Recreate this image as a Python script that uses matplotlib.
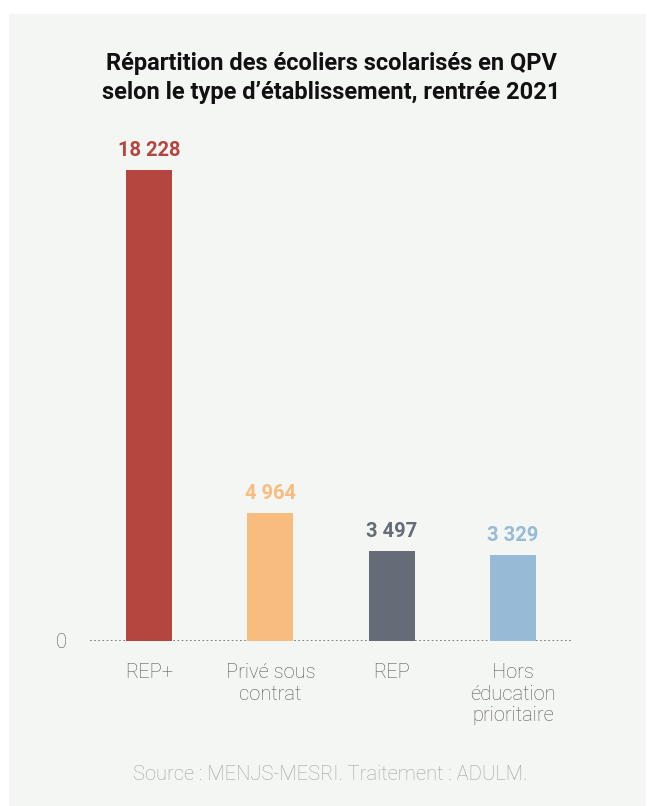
import matplotlib
matplotlib.use("Agg")
import matplotlib.pyplot as plt
from matplotlib.patches import Rectangle

categories = ["REP+", "Privé sous\ncontrat", "REP", "Hors\néducation\nprioritaire"]
values = [18228, 4964, 3497, 3329]
value_labels = ["18 228", "4 964", "3 497", "3 329"]
colors = ["#B5453F", "#F8BC7F", "#646C78", "#97BAD6"]
label_colors = ["#B5453F", "#F8BC7F", "#646C78", "#97BAD6"]
title = "Répartition des écoliers scolarisés en QPV\nselon le type d’établissement, rentrée 2021"
source = "Source : MENJS-MESRI. Traitement : ADULM."

W, H = 647, 806
fig = plt.figure(figsize=(W/100, H/100), dpi=100, facecolor="white")
plt.rcParams['font.family'] = ['Roboto', 'DejaVu Sans']

bg = "#F4F6F3"
fig.patches.append(Rectangle((9/W, 0), (646-9)/W, (806-14)/H, transform=fig.transFigure,
                             facecolor=bg, edgecolor="none", zorder=-10))

# axes in pixel coords
left, right = 90, 572
base, top = 641, 140
ax = fig.add_axes([left/W, (H-base)/H, (right-left)/W, (base-top)/H])
ax.set_facecolor("none")
x = list(range(len(values)))
ax.bar(x, values, width=0.38, color=colors, zorder=2)
ax.set_xlim(-0.486, 3.486)
ax.set_ylim(0, 18228*(base-top)/(base-170))
for s in ax.spines.values():
    s.set_visible(False)
ax.axhline(0, color="#666666", lw=1.2, ls=(0, (1, 1.5)), zorder=1)
ax.set_yticks([0])
ax.set_yticklabels(["0"], fontsize=14.5, color="#555555", fontweight="light")
ax.tick_params(axis="y", length=0, pad=17)
ax.set_xticks(x)
ax.set_xticklabels(categories, fontsize=14.5, color="#555555", fontweight="light", linespacing=1.17, va="top")
ax.tick_params(axis="x", length=0, pad=16)
for xi, v, lab, c in zip(x, values, value_labels, label_colors):
    ax.annotate(lab, (xi, v), xytext=(0, 7), textcoords="offset points", ha="center", va="bottom",
                fontsize=14.5, fontweight="bold", color=c)

fig.text(331/W, 1-78/H, title, ha="center", va="center", fontsize=17, fontweight="bold",
         color="#111111", linespacing=1.3)
fig.text(330/W, 1-775/H, source, ha="center", va="center", fontsize=14.5, color="#A0A0A0",
         fontweight="light")

fig.savefig("out.png", dpi=100, facecolor="white")
